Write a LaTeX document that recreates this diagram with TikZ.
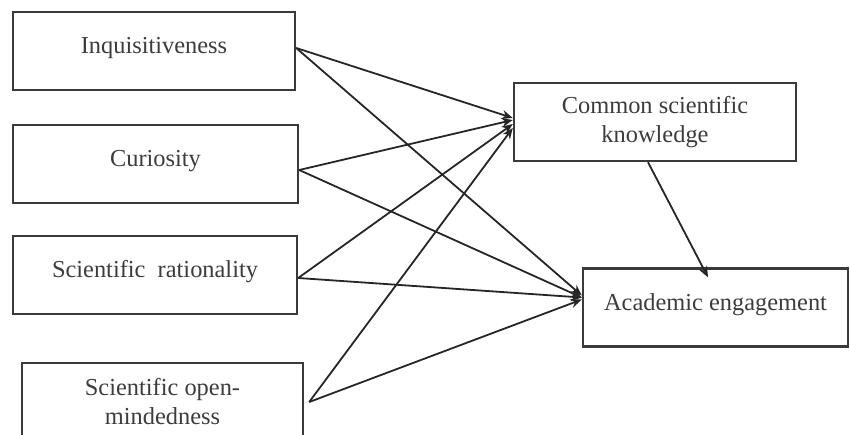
\documentclass[tikz,border=0pt]{standalone}
\usepackage{fontspec}
\setmainfont{Liberation Serif}
\usetikzlibrary{arrows.meta}
\definecolor{boxline}{HTML}{3A3A3A}
\definecolor{boxtext}{HTML}{3C3C3C}

\begin{document}
\begin{tikzpicture}[
  x=0.5pt, y=-0.5pt,
  >={Stealth[length=5.5pt,width=4.5pt]},
  var/.style={draw=boxline, line width=1.2pt, minimum height=39pt, inner sep=0pt,
    text=boxtext, font=\fontsize{12.2}{14.5}\selectfont, align=center},
  oneline/.style={var, text height=8.5pt, text depth=6pt},
  every edge/.style={draw, ->, line width=0.9pt, black!85}
]
\clip (0,0) rectangle (850,434);
\node[oneline, minimum width=141pt] (inq) at (154,51) {Inquisitiveness};
\node[oneline, minimum width=142.5pt] (cur) at (155.5,164) {Curiosity};
\node[oneline, minimum width=142pt] (rat) at (155,275) {Scientific\ \ rationality};
\node[var, minimum width=140.5pt] (open) at (162.5,402) {Scientific open-\\mindedness};
\node[var, minimum width=141pt] (csk) at (655,122) {Common scientific\\knowledge};
\node[oneline, minimum width=132.5pt] (ae) at (715.5,307.5) {Academic engagement};
\path[->]
  ([yshift=1.5pt]inq.east) edge ([yshift=2pt]csk.west)
  ([yshift=1.5pt]inq.east) edge ([yshift=6pt]ae.west)
  ([yshift=-3pt]cur.east) edge ([yshift=1pt]csk.west)
  ([yshift=-3pt]cur.east) edge ([yshift=5pt]ae.west)
  ([yshift=-1.5pt]rat.east) edge ([yshift=-1pt]csk.west)
  ([yshift=-1.5pt]rat.east) edge ([yshift=5pt]ae.west)
  ([xshift=2.5pt]open.east) edge ([yshift=-3pt]csk.west)
  ([xshift=2.5pt]open.east) edge ([yshift=4pt]ae.west)
  ([xshift=-3.5pt]csk.south) edge ([xshift=-3.75pt,yshift=-5pt]ae.north);
\end{tikzpicture}
\end{document}
